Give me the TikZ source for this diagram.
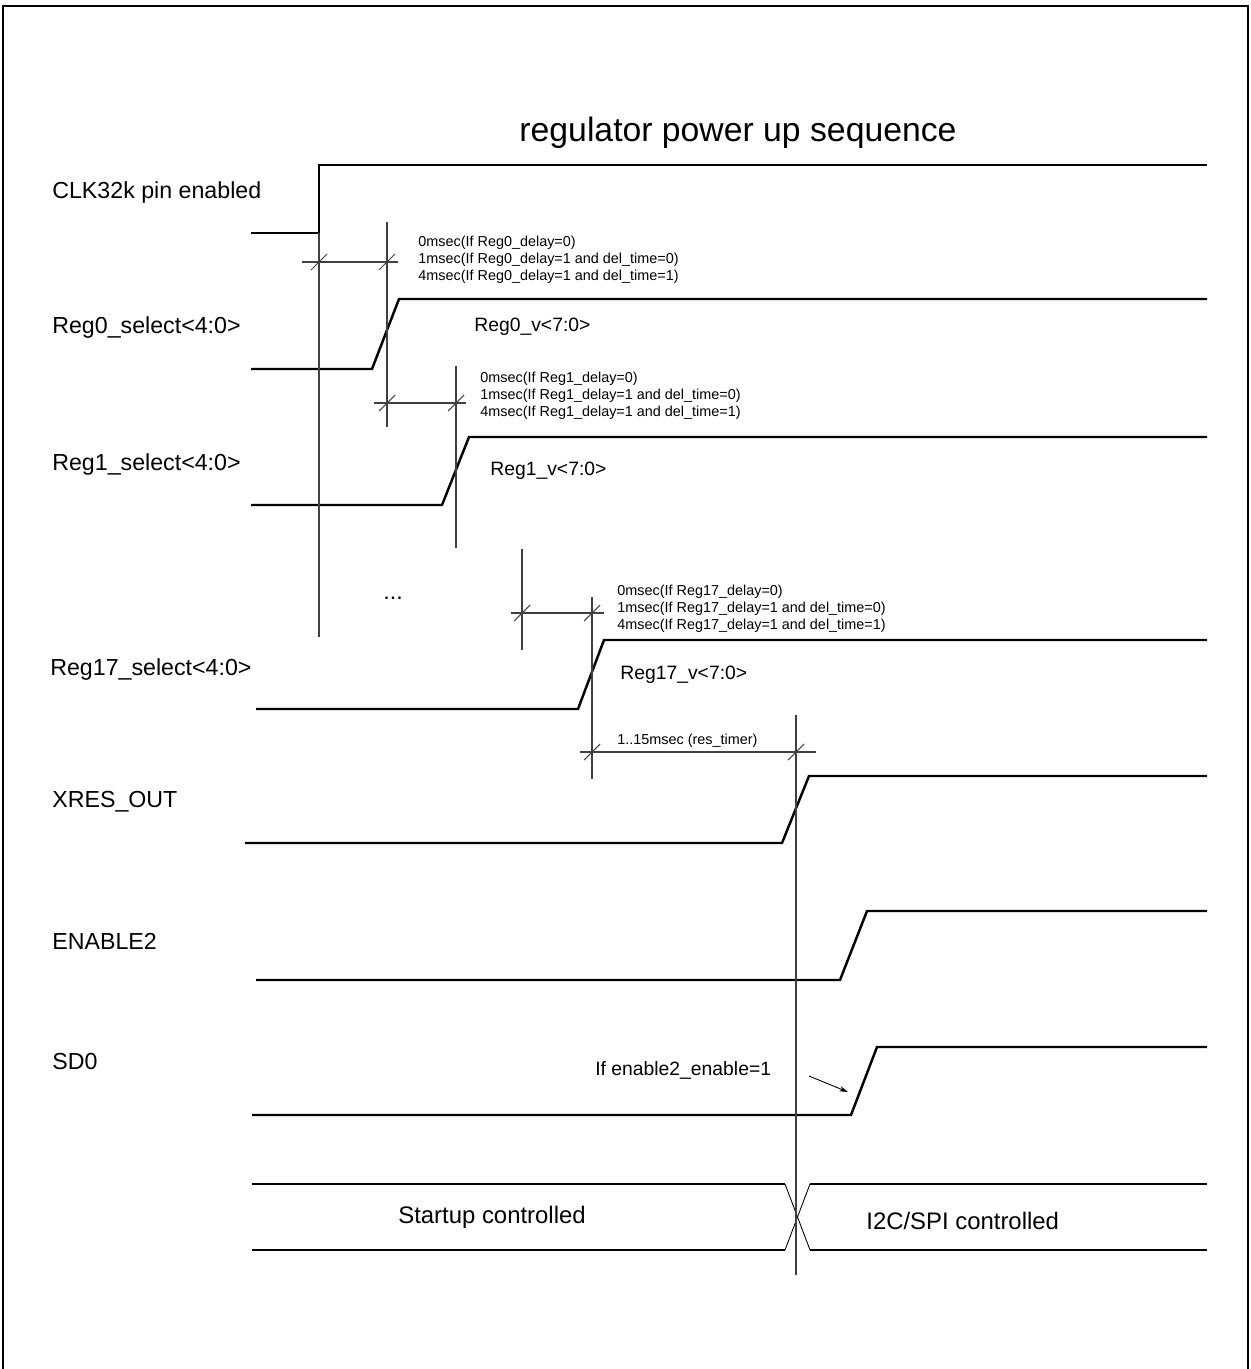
\documentclass[tikz,border=0pt]{standalone}
\usepackage{fontspec}
\setmainfont{Liberation Sans}
\usepackage{tikz}
\usetikzlibrary{arrows.meta}

\begin{document}
\begin{tikzpicture}[
    x=0.2mm, y=-0.2mm,
    frameLine/.style={line width=1.6pt, black},
    sigLine/.style={line width=1.4pt, black, line join=miter},
    edgeLine/.style={line width=0.5pt, black},
    dimLine/.style={line width=0.6pt, black!75},
    sigLabel/.style={anchor=west, font=\fontsize{13.2}{15}\selectfont, inner sep=0pt},
    busLabel/.style={anchor=west, font=\fontsize{13.6}{15}\selectfont, inner sep=0pt},
    valLabel/.style={anchor=west, font=\fontsize{11}{13}\selectfont, inner sep=0pt},
    noteText/.style={anchor=west, align=left, font=\fontsize{8.2}{9.6}\selectfont, inner sep=0pt},
    hintArrow/.style={-{Stealth[length=5pt, width=3pt]}, line width=0.5pt}
]
    \useasboundingbox (0,0) rectangle (1250,1369);

    % Frame (open at the bottom)
    \draw[frameLine] (3,1369) -- (3,6) -- (1248,6) -- (1248,1369);

    % Title
    \node[font=\fontsize{19.2}{22}\selectfont] (title) at (738,133) {regulator power up sequence};

    % Signal names
    \node[sigLabel] (clk)    at (52,193)  {CLK32k pin enabled};
    \node[sigLabel] (rzsel)  at (52,328)  {Reg0\_select<4:0>};
    \node[sigLabel] (rosel)  at (52,465)  {Reg1\_select<4:0>};
    \node[sigLabel] (rssel)  at (50,669)  {Reg17\_select<4:0>};
    \node[sigLabel] (xres)   at (52,802)  {XRES\_OUT};
    \node[sigLabel] (entwo)  at (52,941)  {ENABLE2};
    \node[sigLabel] (sdzero) at (52,1062) {SD0};
    \node[sigLabel] (dots)   at (383,598) {...};

    % Waveforms
    \draw[sigLine] (251,233) -- (319,233) -- (319,165) -- (1207,165);
    \draw[sigLine] (251,369) -- (372,369) -- (399,299) -- (1207,299);
    \draw[sigLine] (251,505) -- (442,505) -- (469,437) -- (1207,437);
    \draw[sigLine] (256,709) -- (578,709) -- (604,640) -- (1207,640);
    \draw[sigLine] (245,843) -- (782,843) -- (809,776) -- (1207,776);
    \draw[sigLine] (256,980) -- (840,980) -- (867,911) -- (1207,911);
    \draw[sigLine] (252,1115) -- (851,1115) -- (877,1047) -- (1207,1047);

    % Bus with crossing
    \draw[sigLine] (252,1184) -- (785,1184);
    \draw[sigLine] (252,1250) -- (785,1250);
    \draw[sigLine] (810,1184) -- (1207,1184);
    \draw[sigLine] (810,1250) -- (1207,1250);
    \draw[edgeLine] (785,1184) -- (810,1250);
    \draw[edgeLine] (785,1250) -- (810,1184);
    \node[busLabel] (startup) at (398,1217) {Startup controlled};
    \node[busLabel] (hostctl) at (866,1221) {I2C/SPI controlled};

    % Output values
    \node[valLabel] (rzval) at (474,327) {Reg0\_v<7:0>};
    \node[valLabel] (roval) at (490,471) {Reg1\_v<7:0>};
    \node[valLabel] (rsval) at (620,675) {Reg17\_v<7:0>};

    % Reference lines
    \draw[dimLine] (319,233) -- (319,637);
    \draw[dimLine] (387,222) -- (387,427);
    \draw[dimLine] (456,366) -- (456,548);
    \draw[dimLine] (522,549) -- (522,650);
    \draw[dimLine] (592,597) -- (592,779);
    \draw[dimLine] (796,715) -- (796,1275);

    % Delay dimensions
    \draw[dimLine] (302,262) -- (398,262);
    \draw[dimLine] (374,403) -- (466,403);
    \draw[dimLine] (511,613) -- (604,613);
    \draw[dimLine] (580,752) -- (816,752);
    \foreach \tx/\ty in {319/262, 387/262, 387/403, 456/403, 522/613, 592/613, 592/752, 796/752}
        \draw[dimLine] (\tx,\ty) ++(-8,8) -- ++(16,-16);

    \node[noteText] (rzdel) at (418,260) {0msec(If Reg0\_delay=0)\\1msec(If Reg0\_delay=1 and del\_time=0)\\4msec(If Reg0\_delay=1 and del\_time=1)};
    \node[noteText] (rodel) at (480,396) {0msec(If Reg1\_delay=0)\\1msec(If Reg1\_delay=1 and del\_time=0)\\4msec(If Reg1\_delay=1 and del\_time=1)};
    \node[noteText] (rsdel) at (617,609) {0msec(If Reg17\_delay=0)\\1msec(If Reg17\_delay=1 and del\_time=0)\\4msec(If Reg17\_delay=1 and del\_time=1)};
    \node[noteText] (restim) at (617,741) {1..15msec (res\_timer)};

    % SD0 condition
    \node[valLabel] (sdcond) at (595,1070) {If enable2\_enable=1};
    \coordinate (hintstart) at (809,1076);
    \coordinate (hintend) at (848,1092);
    \draw[hintArrow] (hintstart) -- (hintend);
\end{tikzpicture}
\end{document}
